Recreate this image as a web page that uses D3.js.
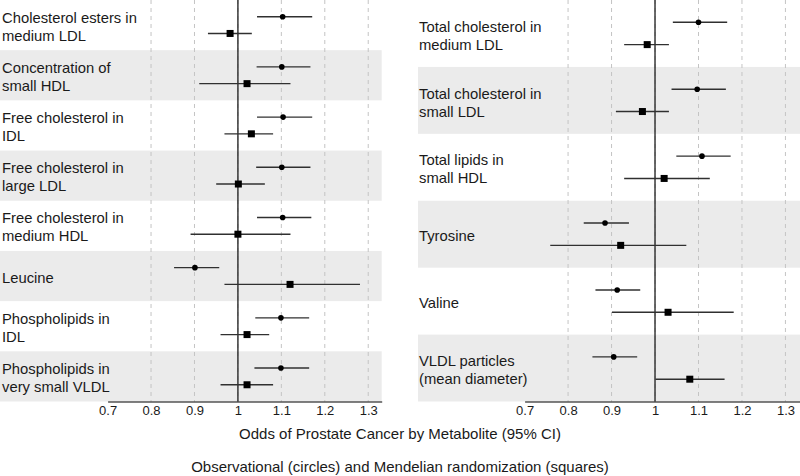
<!DOCTYPE html>
<html><head><meta charset="utf-8">
<script src="https://cdn.jsdelivr.net/npm/d3@7"></script>
<style>
body{margin:0;background:#fff}
svg{display:block}
text{font-family:"Liberation Sans",Arial,Helvetica,sans-serif;fill:#1a1a1a}
</style>
</head><body>
<svg id="chart" width="800" height="476"></svg>
<script>
// ---- data ----
const leftCategories = [
  ["Cholesterol esters in","medium LDL"],
  ["Concentration of","small HDL"],
  ["Free cholesterol in","IDL"],
  ["Free cholesterol in","large LDL"],
  ["Free cholesterol in","medium HDL"],
  ["Leucine"],
  ["Phospholipids in","IDL"],
  ["Phospholipids in","very small VLDL"]
];
// [estimate, lower, upper]
const leftObservational = [
  [1.103,1.044,1.171],
  [1.101,1.043,1.167],
  [1.104,1.044,1.171],
  [1.101,1.042,1.167],
  [1.103,1.044,1.169],
  [0.901,0.853,0.957],
  [1.099,1.040,1.164],
  [1.099,1.038,1.164]
];
const leftMendelian = [
  [0.982,0.931,1.032],
  [1.021,0.911,1.121],
  [1.031,0.969,1.081],
  [1.001,0.950,1.062],
  [1.000,0.891,1.121],
  [1.120,0.969,1.281],
  [1.021,0.960,1.072],
  [1.021,0.960,1.081]
];
const rightCategories = [
  ["Total cholesterol in","medium LDL"],
  ["Total cholesterol in","small LDL"],
  ["Total lipids in","small HDL"],
  ["Tyrosine"],
  ["Valine"],
  ["VLDL particles","(mean diameter)"]
];
const rightObservational = [
  [1.100,1.041,1.166],
  [1.097,1.038,1.163],
  [1.108,1.049,1.174],
  [0.885,0.836,0.940],
  [0.913,0.863,0.966],
  [0.905,0.856,0.959]
];
const rightMendelian = [
  [0.982,0.929,1.032],
  [0.971,0.910,1.032],
  [1.021,0.929,1.126],
  [0.921,0.759,1.072],
  [1.030,0.901,1.181],
  [1.080,1.001,1.160]
];
const tickValues = [0.7,0.8,0.9,1.0,1.1,1.2,1.3];
const tickLabels = ["0.7","0.8","0.9","1","1.1","1.2","1.3"];
const gridValues = [0.8,0.9,1.0,1.1,1.2,1.3];
const referenceValue = 1;
const xTitle = "Odds of Prostate Cancer by Metabolite (95% CI)";
const caption = "Observational (circles) and Mendelian randomization (squares)";

// ---- drawing ----
const svg = d3.select("#chart");
const plotTop = 0, plotBottom = 401.5;

function drawPanel(cats, obs, mr, opt){
  const g = svg.append("g");
  const y = d3.scaleBand().domain(d3.range(cats.length)).range([plotTop, plotBottom]);
  const bw = y.bandwidth();
  const x = d3.scaleLinear().domain([0.7, opt.domainMax]).range([opt.x0, opt.x1]);

  // alternating bands
  g.selectAll("rect.band").data(d3.range(cats.length).filter(i => i % 2 === 1))
    .join("rect").attr("class","band")
    .attr("x", opt.bandX).attr("width", opt.x1 - opt.bandX)
    .attr("y", i => y(i)).attr("height", bw)
    .attr("fill", "#ebebeb");

  // dashed grid
  g.selectAll("line.grid").data(gridValues).join("line").attr("class","grid")
    .attr("x1", d => x(d)).attr("x2", d => x(d))
    .attr("y1", plotTop).attr("y2", plotBottom)
    .attr("stroke", "#c4c4c4").attr("stroke-width", 1)
    .attr("stroke-dasharray", "4,4");

  // reference line
  g.append("line")
    .attr("x1", x(referenceValue)).attr("x2", x(referenceValue))
    .attr("y1", plotTop).attr("y2", plotBottom)
    .attr("stroke", "#2a2a2a").attr("stroke-width", 1.4);

  // CI lines
  const rows = [];
  obs.forEach((d,i) => rows.push({i, v:d, off:bw/3, type:"obs"}));
  mr.forEach((d,i) => rows.push({i, v:d, off:2*bw/3, type:"mr"}));

  g.selectAll("line.ci").data(rows).join("line").attr("class","ci")
    .attr("x1", d => x(d.v[1])).attr("x2", d => x(d.v[2]))
    .attr("y1", d => y(d.i) + d.off).attr("y2", d => y(d.i) + d.off)
    .attr("stroke", "#303030").attr("stroke-width", 1.4);

  g.selectAll("circle.obs").data(rows.filter(d => d.type==="obs")).join("circle").attr("class","obs")
    .attr("cx", d => x(d.v[0])).attr("cy", d => y(d.i) + d.off)
    .attr("r", 2.8).attr("fill", "#000");

  const s = 7;
  g.selectAll("rect.mr").data(rows.filter(d => d.type==="mr")).join("rect").attr("class","mr")
    .attr("x", d => x(d.v[0]) - s/2).attr("y", d => y(d.i) + d.off - s/2)
    .attr("width", s).attr("height", s).attr("fill", "#000");

  // labels
  const lab = g.selectAll("text.lab").data(cats).join("text").attr("class","lab")
    .attr("x", opt.labelX)
    .attr("font-size", "14.8px");
  lab.each(function(lines, i){
    const t = d3.select(this);
    const c = y(i) + bw/2 + opt.labelShift;
    lines.forEach((ln, k) => {
      t.append("tspan").attr("x", opt.labelX)
        .attr("y", c + (k - (lines.length-1)/2) * 18)
        .text(ln);
    });
  });

  // axis
  const axis = d3.axisBottom(x).tickValues(tickValues)
    .tickFormat((d,i) => tickLabels[i]).tickSize(0).tickSizeOuter(0).tickPadding(4);
  const ag = g.append("g").attr("transform", `translate(0,${plotBottom})`).call(axis);
  ag.select(".domain").attr("stroke", "#000").attr("stroke-width", 1.1);
  ag.selectAll("text").attr("font-size", "13px")
    .attr("font-family", "'Liberation Sans',Arial,sans-serif").attr("fill", "#1a1a1a");
}

drawPanel(leftCategories, leftObservational, leftMendelian,
  {x0:107.6, x1:381.7, domainMax:1.331, bandX:0, labelX:2, labelShift:6.6});
drawPanel(rightCategories, rightObservational, rightMendelian,
  {x0:524.6, x1:800, domainMax:1.3335, bandX:418, labelX:419, labelShift:7.2});

svg.append("text").attr("x", 400).attr("y", 438.5).attr("text-anchor","middle")
  .attr("font-size","15px").text(xTitle);
svg.append("text").attr("x", 400).attr("y", 471.5).attr("text-anchor","middle")
  .attr("font-size","15px").text(caption);
</script>
</body></html>
